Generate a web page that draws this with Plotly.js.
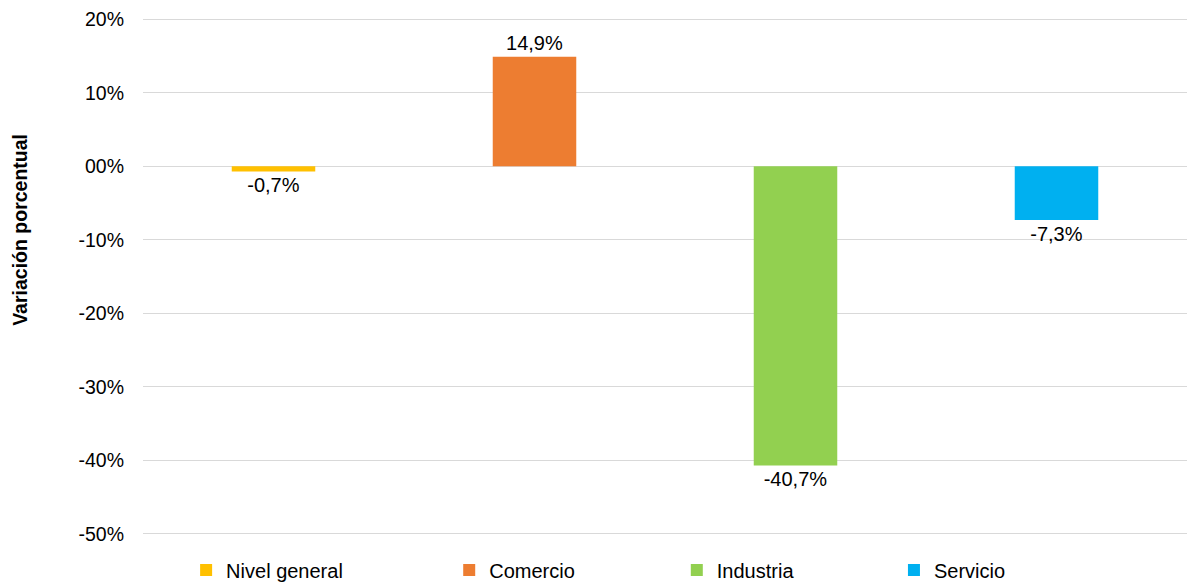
<!DOCTYPE html>
<html>
<head>
<meta charset="utf-8">
<script src="https://cdn.plot.ly/plotly-3.0.1.min.js"></script>
<style>html,body{margin:0;padding:0;background:#fff;}#chart{width:1187px;height:584px;}</style>
</head>
<body>
<div id="chart"></div>
<script>
const categories = ["Nivel general", "Comercio", "Industria", "Servicio"];
const values = [-0.7, 14.9, -40.7, -7.3];
const colors = ["#FFC000", "#ED7D31", "#92D050", "#00B0F0"];
const tickVals = [-50, -40, -30, -20, -10, 0, 10, 20];
const tickText = ["-50%", "-40%", "-30%", "-20%", "-10%", "00%", "10%", "20%"];
const yTitle = "Variación porcentual";

const FONT = "Liberation Sans, Arial, Helvetica, sans-serif";
const legendNames = ["legend", "legend2", "legend3", "legend4"];
const legendX = [0.0413, 0.2933, 0.5113, 0.7193];

const traces = categories.map((c, i) => ({
  type: "bar",
  name: c,
  x: [c],
  y: [values[i]],
  width: 0.32,
  marker: {color: colors[i]},
  text: [values[i].toFixed(1).replace(".", ",") + "%"],
  textposition: "outside",
  cliponaxis: false,
  textfont: {family: FONT, size: 20, color: "#000"},
  legend: legendNames[i],
  hoverinfo: "skip"
}));

const layout = {
  width: 1187, height: 584,
  margin: {l: 143, r: 0, t: 17, b: 48, autoexpand: false},
  paper_bgcolor: "#fff", plot_bgcolor: "#fff",
  barmode: "overlay",
  showlegend: true,
  font: {family: FONT, size: 20, color: "#000"},
  xaxis: {type: "category", categoryorder: "array", categoryarray: categories,
          showticklabels: false, showgrid: false, zeroline: false, showline: false, ticks: ""},
  yaxis: {range: [-50.3, 20.3], tickvals: tickVals, ticktext: tickText,
          showgrid: true, gridcolor: "#d9d9d9", gridwidth: 1.3, zeroline: false,
          showline: false, ticks: "", ticklabelstandoff: 18,
          tickfont: {family: FONT, size: 19.5, color: "#000"}},
  annotations: [{text: "<b>" + yTitle + "</b>", xref: "paper", yref: "paper",
                 x: -0.1178, y: 0.59, xanchor: "center", yanchor: "middle",
                 textangle: -90, showarrow: false,
                 font: {family: FONT, size: 19.5, color: "#000"}}]
};
legendNames.forEach((ln, i) => {
  layout[ln] = {orientation: "h", x: legendX[i], xanchor: "left", y: -0.0655, yanchor: "middle",
                font: {family: FONT, size: 20, color: "#000"}, itemwidth: 30,
                bgcolor: "rgba(0,0,0,0)", borderwidth: 0};
});

Plotly.newPlot("chart", traces, layout, {displayModeBar: false, staticPlot: true});
</script>
</body>
</html>
